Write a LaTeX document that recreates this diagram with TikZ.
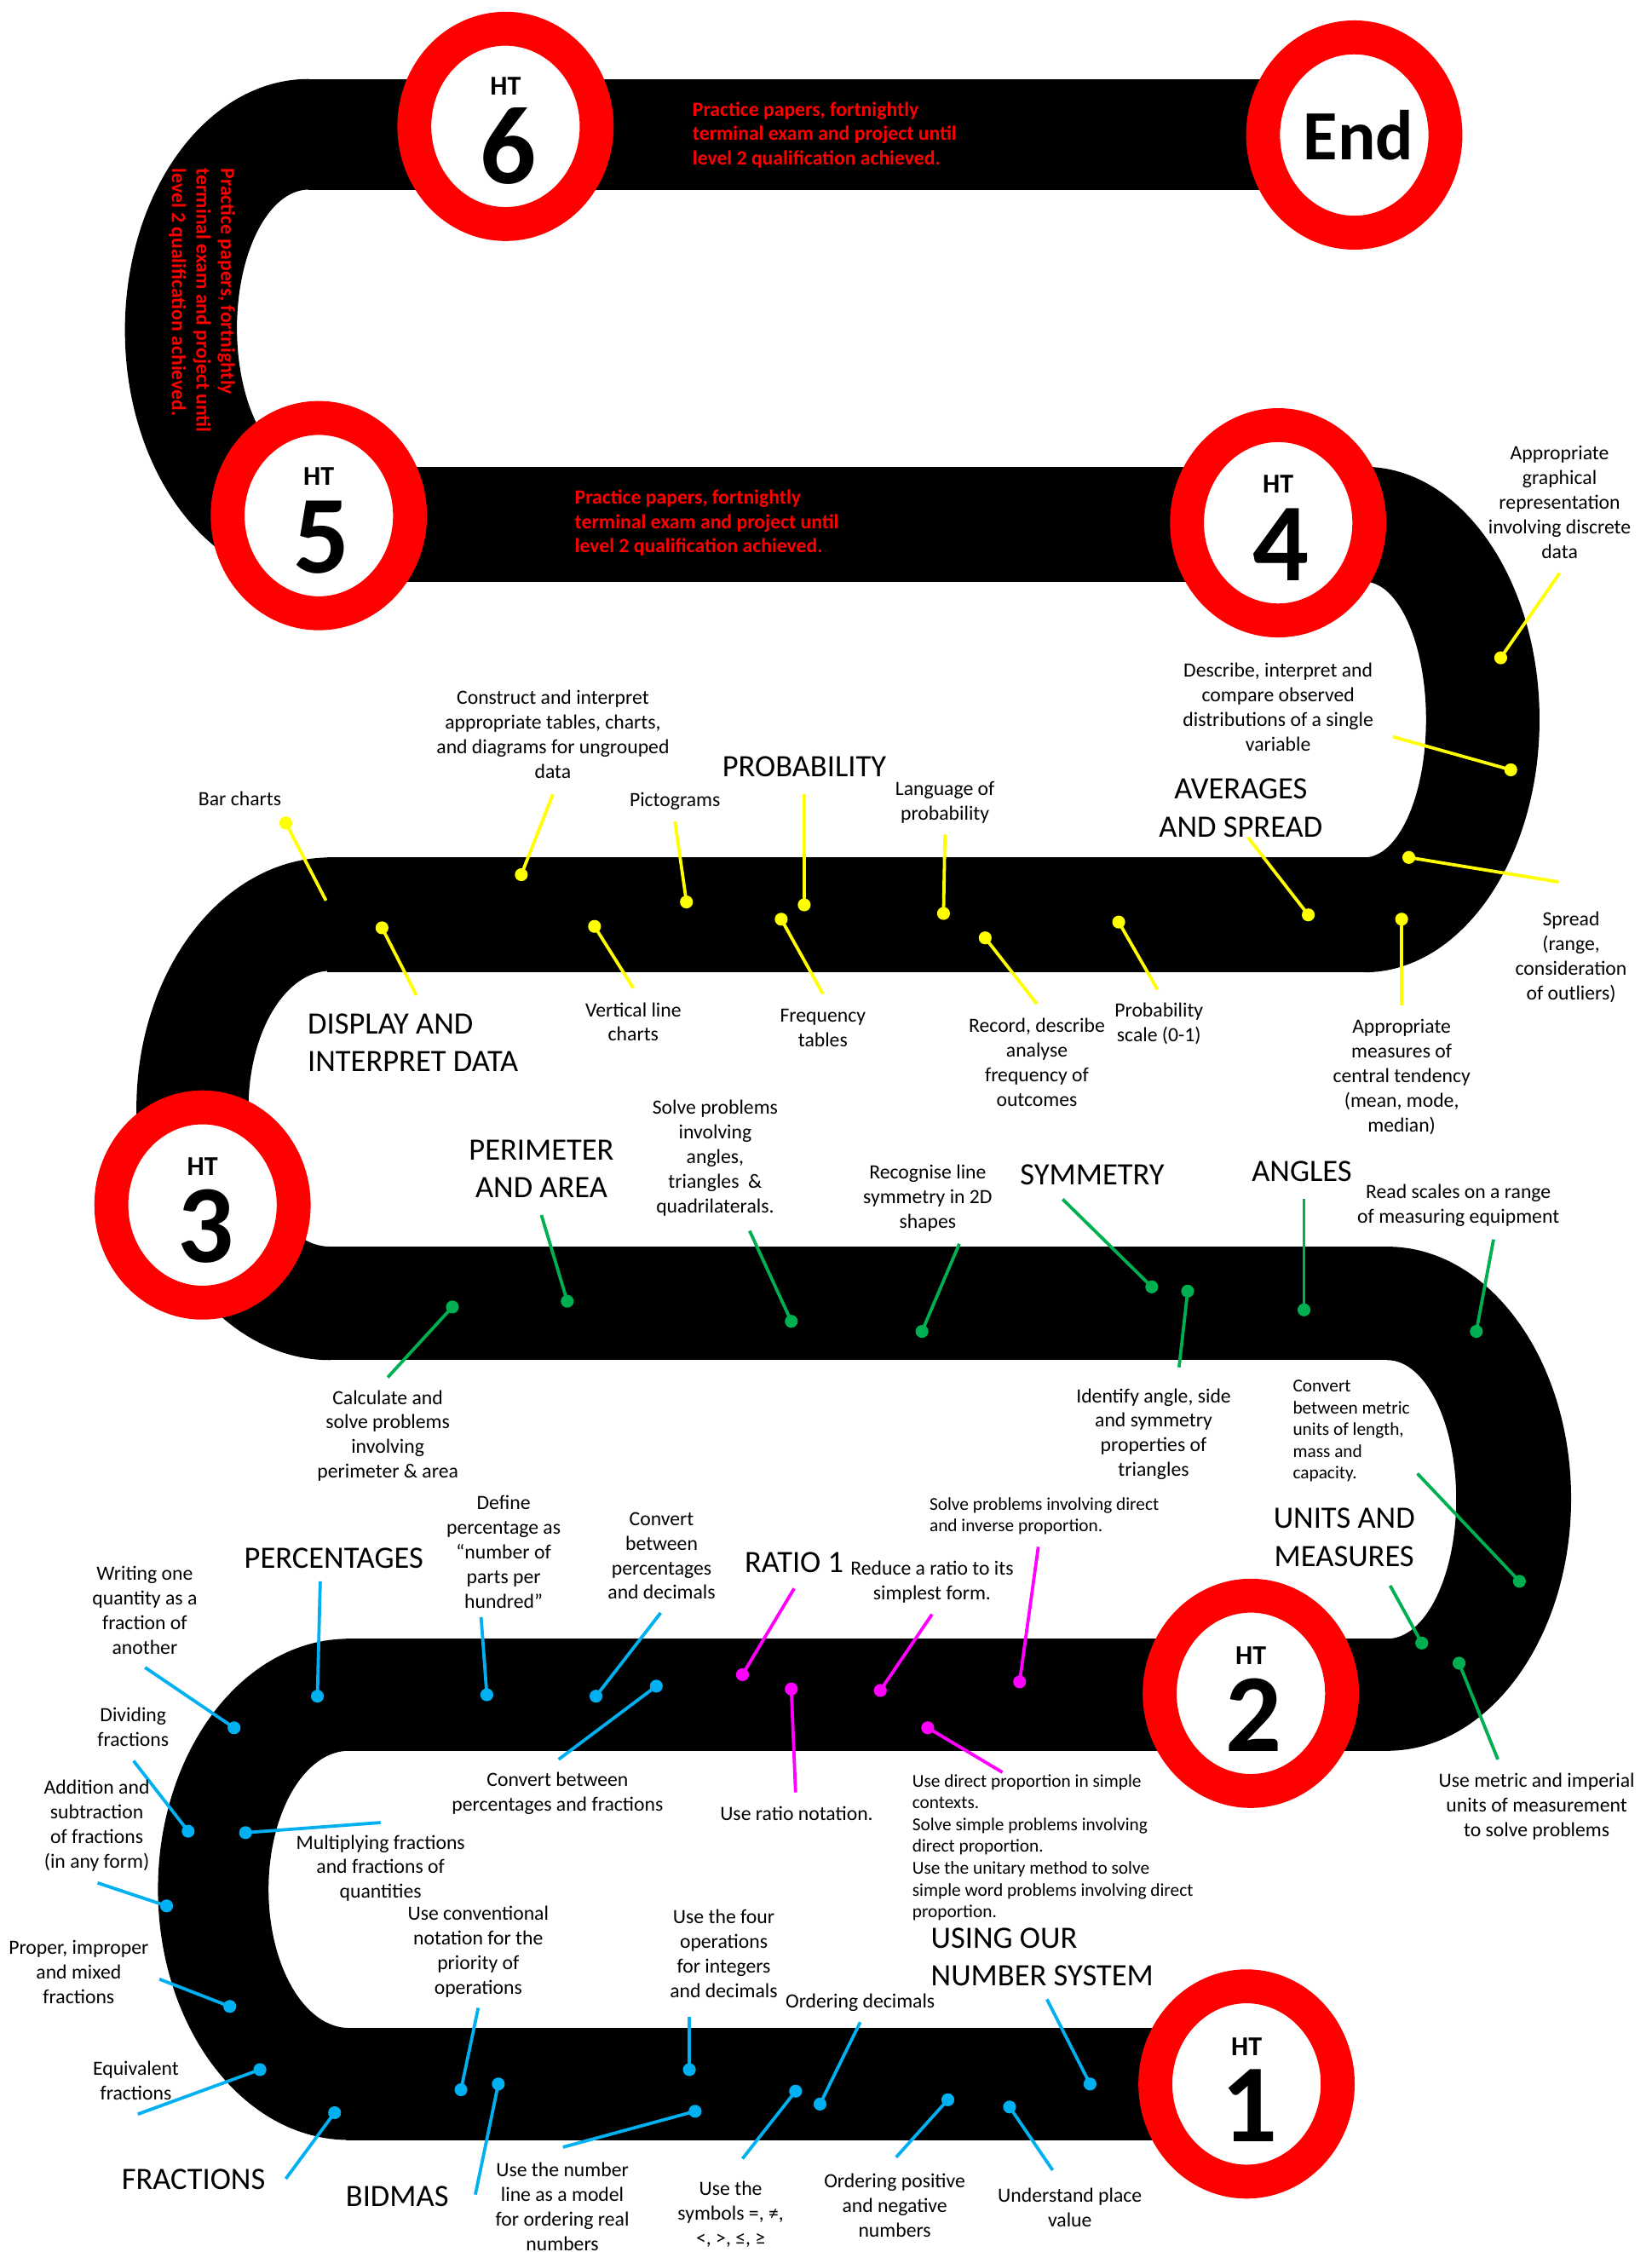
\documentclass[tikz,border=0pt]{standalone}
\usepackage{fontspec}
\setmainfont{Carlito}
\usetikzlibrary{shapes.geometric,calc}
\definecolor{redColor}{HTML}{FF0000}
\definecolor{ylwColor}{HTML}{FFFF00}
\definecolor{grnColor}{HTML}{00B050}
\definecolor{magColor}{HTML}{FF00FF}
\definecolor{bluColor}{HTML}{00B0F0}
\tikzset{
	road/.style={fill=black},
	ring/.style={ellipse, draw=redColor, fill=white, line width=5.9mm,
		minimum width=31.75mm, minimum height=34mm, inner sep=0pt},
	httag/.style={font=\bfseries\fontsize{13.5}{16}\selectfont, inner sep=0pt},
	htnum/.style={font=\bfseries\fontsize{55}{60}\selectfont, inner sep=0pt},
	note/.style={text=redColor, font=\bfseries\fontsize{10}{12.1}\selectfont,
		align=left, inner sep=0pt},
	topic/.style={font=\fontsize{10}{12.2}\selectfont, align=center, inner sep=0pt},
	smalltopic/.style={font=\fontsize{9}{10.8}\selectfont, align=left,
		anchor=west, inner sep=0pt},
	head/.style={font=\fontsize{15.4}{18.8}\selectfont, align=center, inner sep=0pt},
	blob/.style={circle, fill=#1, inner sep=0pt, minimum size=6.4pt},
	spoke/.style={draw=#1, line width=1.6pt}
}
\newcommand{\practice}{Practice papers, fortnightly\\terminal exam and project until\\level 2 qualification achieved.}

\begin{document}
\begin{tikzpicture}[x=0.25mm, y=-0.25mm]
	\path[fill=white] (0,0) rectangle (1150,1568);
	\useasboundingbox (0,0) rectangle (1150,1568);
	
	% the road
	\fill[road] (215,55) rectangle (902,132);
	\fill[road] (213,325) rectangle (952,405);
	\fill[road] (228,597) rectangle (952,677);
	\fill[road] (228,868) rectangle (968,947);
	\fill[road] (241,1141) rectangle (968,1219);
	\fill[road] (241,1412) rectangle (870,1490);
	\fill[road] (215,55) arc[start angle=270, end angle=90, x radius=128, y radius=175]
		-- (215,325) arc[start angle=90, end angle=270, x radius=50, y radius=96.5] -- cycle;
	\fill[road] (950,325) arc[start angle=270, end angle=450, x radius=122, y radius=176]
		-- (950,597) arc[start angle=90, end angle=-90, x radius=43, y radius=96] -- cycle;
	\fill[road] (230,597) arc[start angle=270, end angle=90, x radius=135, y radius=175]
		-- (230,868) arc[start angle=90, end angle=270, x radius=57, y radius=96] -- cycle;
	\fill[road] (966,868) arc[start angle=270, end angle=450, x radius=128, y radius=175.5]
		-- (966,1141) arc[start angle=90, end angle=-90, x radius=48, y radius=97] -- cycle;
	\fill[road] (243,1141) arc[start angle=270, end angle=90, x radius=133, y radius=174.5]
		-- (243,1412) arc[start angle=90, end angle=270, x radius=56, y radius=96.5] -- cycle;
	
	% half terms
	\node[ring] (ht6) at (352,88) {};
	\node[ring] (htend) at (943,94) {};
	\node[ring] (ht5) at (222,359) {};
	\node[ring] (ht4) at (890,364) {};
	\node[ring] (ht3) at (141,839) {};
	\node[ring] (ht2) at (871,1179) {};
	\node[ring] (ht1) at (868,1451) {};
	\node[httag] at ($(ht6)+(0,-28)$) {HT};
	\node[htnum] at ($(ht6)+(2,14)$) {6};
	\node[font=\bfseries\fontsize{35}{40}\selectfont, inner sep=0pt] at ($(htend)+(3,0)$) {End};
	\node[httag] at ($(ht5)+(0,-27)$) {HT};
	\node[htnum] at ($(ht5)+(2,15)$) {5};
	\node[httag] at ($(ht4)+(0,-27)$) {HT};
	\node[htnum] at ($(ht4)+(2,15)$) {4};
	\node[httag] at ($(ht3)+(0,-27)$) {HT};
	\node[htnum] at ($(ht3)+(2,15)$) {3};
	\node[httag] at ($(ht2)+(0,-26)$) {HT};
	\node[htnum] at ($(ht2)+(2,15)$) {2};
	\node[httag] at ($(ht1)+(0,-26)$) {HT};
	\node[htnum] at ($(ht1)+(2,15)$) {1};
	
	\node[note, anchor=west] (n6) at (482,94) {\practice};
	\node[note, anchor=west] (n5) at (400,364) {\practice};
	\node[note, anchor=north west, rotate=-90] (nside) at (164,117) {\practice};
	
	% data (yellow)
	\node[blob=ylwColor] (d-bar) at (199,573) {};      \coordinate (e-bar) at (227,627);
	\node[blob=ylwColor] (d-cons) at (363,609) {};     \coordinate (e-cons) at (385,553);
	\node[blob=ylwColor] (d-pict) at (478,628) {};     \coordinate (e-pict) at (470,572);
	\node[blob=ylwColor] (d-prob) at (560,630) {};     \coordinate (e-prob) at (560,553);
	\node[blob=ylwColor] (d-disp) at (266,646) {};     \coordinate (e-disp) at (290,693);
	\node[blob=ylwColor] (d-vert) at (414,645) {};     \coordinate (e-vert) at (441,688);
	\node[blob=ylwColor] (d-freq) at (544,640) {};     \coordinate (e-freq) at (573,692);
	\node[blob=ylwColor] (d-lang) at (657,636) {};     \coordinate (e-lang) at (658,581);
	\node[blob=ylwColor] (d-rec) at (686,653) {};      \coordinate (e-rec) at (722,699);
	\node[blob=ylwColor] (d-scale) at (779,642) {};    \coordinate (e-scale) at (806,689);
	\node[blob=ylwColor] (d-avg) at (911,637) {};      \coordinate (e-avg) at (869,583);
	\node[blob=ylwColor] (d-meas) at (976,640) {};     \coordinate (e-meas) at (976,700);
	\node[blob=ylwColor] (d-spread) at (981,597) {};   \coordinate (e-spread) at (1085,614);
	\node[blob=ylwColor] (d-descr) at (1052,536) {};   \coordinate (e-descr) at (970,513);
	\node[blob=ylwColor] (d-graph) at (1045,458) {};   \coordinate (e-graph) at (1086,399);
	\foreach \n in {bar,cons,pict,prob,disp,vert,freq,lang,rec,scale,avg,meas,spread,descr,graph}
		\draw[spoke=ylwColor] (d-\n.center) -- (e-\n);
	
	\node[topic] (l-bar) at (167,556) {Bar charts};
	\node[topic] (l-cons) at (385,511.5) {Construct and interpret\\appropriate tables, charts,\\and diagrams for ungrouped\\data};
	\node[topic] (l-pict) at (470,558) {Pictograms};
	\node[head] (l-prob) at (560,534) {PROBABILITY};
	\node[head, align=left, anchor=west] (l-disp) at (214,726) {DISPLAY AND\\INTERPRET DATA};
	\node[topic] (l-vert) at (441,711.5) {Vertical line\\charts};
	\node[topic] (l-freq) at (573,715.5) {Frequency\\tables};
	\node[topic] (l-lang) at (658,558.5) {Language of\\probability};
	\node[topic] (l-rec) at (722,739.5) {Record, describe\\analyse\\frequency of\\outcomes};
	\node[topic] (l-scale) at (807,712.5) {Probability\\scale (0-1)};
	\node[head] (l-avg) at (864,562.7) {AVERAGES\\AND SPREAD};
	\node[topic] (l-meas) at (976,750) {Appropriate\\measures of\\central tendency\\(mean, mode,\\median)};
	\node[topic] (l-spread) at (1094,666.5) {Spread\\(range,\\consideration\\of outliers)};
	\node[topic] (l-descr) at (890,492.5) {Describe, interpret and\\compare observed\\distributions of a single\\variable};
	\node[topic] (l-graph) at (1086,349.7) {Appropriate\\graphical\\representation\\involving discrete\\data};
	
	% shape and measures (green)
	\node[blob=grnColor] (d-per) at (395,906) {};      \coordinate (e-per) at (377,846);
	\node[blob=grnColor] (d-solv) at (551,920) {};     \coordinate (e-solv) at (522,857);
	\node[blob=grnColor] (d-calc) at (315,910) {};     \coordinate (e-calc) at (270,959);
	\node[blob=grnColor] (d-recog) at (642,927) {};    \coordinate (e-recog) at (668,866);
	\node[blob=grnColor] (d-sym) at (802,896) {};      \coordinate (e-sym) at (740,835);
	\node[blob=grnColor] (d-ident) at (827,899) {};    \coordinate (e-ident) at (821,952);
	\node[blob=grnColor] (d-ang) at (908,912) {};      \coordinate (e-ang) at (908,835);
	\node[blob=grnColor] (d-read) at (1028,927) {};    \coordinate (e-read) at (1040,863);
	\node[blob=grnColor] (d-conv) at (1058,1101) {};   \coordinate (e-conv) at (987,1026);
	\node[blob=grnColor] (d-units) at (990,1144) {};   \coordinate (e-units) at (968,1104);
	\node[blob=grnColor] (d-metric) at (1016,1158) {}; \coordinate (e-metric) at (1043,1225);
	\foreach \n in {per,solv,calc,recog,sym,ident,ang,read,conv,units,metric}
		\draw[spoke=grnColor] (d-\n.center) -- (e-\n);
	
	\node[head] (l-per) at (377,813.7) {PERIMETER\\AND AREA};
	\node[topic] (l-solv) at (498,806.3) {Solve problems\\involving\\angles,\\triangles~ \&\\quadrilaterals.};
	\node[topic] (l-calc) at (270,999.7) {Calculate and\\solve problems\\involving\\perimeter \& area};
	\node[topic] (l-recog) at (646,834) {Recognise line\\symmetry in 2D\\shapes};
	\node[head] (l-sym) at (760.6,818) {SYMMETRY};
	\node[topic] (l-ident) at (803.3,998.6) {Identify angle, side\\and symmetry\\properties of\\triangles};
	\node[head] (l-ang) at (906.5,815.6) {ANGLES};
	\node[topic] (l-read) at (1015.5,839.2) {Read scales on a range\\of measuring equipment};
	\node[smalltopic] (l-conv) at (900,996.4) {Convert\\between metric\\units of length,\\mass and\\capacity.};
	\node[head] (l-units) at (936,1070.5) {UNITS AND\\MEASURES};
	\node[topic] (l-metric) at (1070,1257.7) {Use metric and imperial\\units of measurement\\to solve problems};
	
	% ratio (magenta)
	\node[blob=magColor] (d-ratio) at (517,1166) {};   \coordinate (e-ratio) at (553,1106);
	\node[blob=magColor] (d-reduce) at (613,1177) {};  \coordinate (e-reduce) at (649,1124);
	\node[blob=magColor] (d-solvep) at (710,1171) {};  \coordinate (e-solvep) at (723,1077);
	\node[blob=magColor] (d-notn) at (551,1176) {};    \coordinate (e-notn) at (554,1248);
	\node[blob=magColor] (d-direct) at (646,1203) {};  \coordinate (e-direct) at (698,1234);
	\foreach \n in {ratio,reduce,solvep,notn,direct}
		\draw[spoke=magColor] (d-\n.center) -- (e-\n);
	
	\node[head] (l-ratio) at (553,1088) {RATIO 1};
	\node[topic] (l-reduce) at (649,1101.6) {Reduce a ratio to its\\simplest form.};
	\node[smalltopic] (l-solvep) at (647,1055.6) {Solve problems involving direct\\and inverse proportion.};
	\node[topic] (l-notn) at (554.7,1262.6) {Use ratio notation.};
	\node[smalltopic] (l-direct) at (635,1286.3) {Use direct proportion in simple\\contexts.\\Solve simple problems involving\\direct proportion.\\Use the unitary method to solve\\simple word problems involving direct\\proportion.};
	
	% number (blue)
	\node[blob=bluColor] (d-pct) at (221,1181) {};     \coordinate (e-pct) at (223,1101);
	\node[blob=bluColor] (d-defn) at (339,1180) {};    \coordinate (e-defn) at (335,1126);
	\node[blob=bluColor] (d-pdec) at (415,1181) {};    \coordinate (e-pdec) at (460,1123);
	\node[blob=bluColor] (d-pfrac) at (457,1174) {};   \coordinate (e-pfrac) at (389,1225);
	\node[blob=bluColor] (d-wrt) at (163,1203) {};     \coordinate (e-wrt) at (101,1161);
	\node[blob=bluColor] (d-divd) at (131,1275) {};    \coordinate (e-divd) at (93,1226);
	\node[blob=bluColor] (d-mult) at (171,1276) {};    \coordinate (e-mult) at (265,1269);
	\node[blob=bluColor] (d-add) at (116,1327) {};     \coordinate (e-add) at (68,1311);
	\node[blob=bluColor] (d-prop) at (160,1397) {};    \coordinate (e-prop) at (111,1378);
	\node[blob=bluColor] (d-equiv) at (181,1441) {};   \coordinate (e-equiv) at (96,1472);
	\node[blob=bluColor] (d-frac) at (233,1471) {};    \coordinate (e-frac) at (199,1517);
	\node[blob=bluColor] (d-bidm) at (347,1451) {};    \coordinate (e-bidm) at (331,1528);
	\node[blob=bluColor] (d-conven) at (321,1455) {};  \coordinate (e-conven) at (333,1398);
	\node[blob=bluColor] (d-numl) at (484,1470) {};    \coordinate (e-numl) at (392,1495);
	\node[blob=bluColor] (d-four) at (480,1441) {};    \coordinate (e-four) at (480,1404);
	\node[blob=bluColor] (d-symb) at (554,1456) {};    \coordinate (e-symb) at (517,1503);
	\node[blob=bluColor] (d-orddec) at (571,1465) {};  \coordinate (e-orddec) at (599,1408);
	\node[blob=bluColor] (d-ordpos) at (660,1462) {};  \coordinate (e-ordpos) at (624,1502);
	\node[blob=bluColor] (d-place) at (703,1467) {};   \coordinate (e-place) at (733,1511);
	\node[blob=bluColor] (d-using) at (759,1451) {};   \coordinate (e-using) at (729,1392);
	\foreach \n in {pct,defn,pdec,pfrac,wrt,divd,mult,add,prop,equiv,frac,bidm,conven,numl,four,symb,orddec,ordpos,place,using}
		\draw[spoke=bluColor] (d-\n.center) -- (e-\n);
	
	\node[head] (l-pct) at (232.4,1085) {PERCENTAGES};
	\node[topic] (l-defn) at (350.7,1080.5) {Define\\percentage as\\“number of\\parts per\\hundred”};
	\node[topic] (l-pdec) at (460.7,1083.3) {Convert\\between\\percentages\\and decimals};
	\node[topic] (l-pfrac) at (388.2,1248.7) {Convert between\\percentages and fractions};
	\node[topic] (l-wrt) at (100.8,1121) {Writing one\\quantity as a\\fraction of\\another};
	\node[topic] (l-divd) at (92.7,1202.7) {Dividing\\fractions};
	\node[topic] (l-mult) at (265,1300.8) {Multiplying fractions\\and fractions of\\quantities};
	\node[topic] (l-add) at (67.4,1271.3) {Addition and\\subtraction\\of fractions\\(in any form)};
	\node[topic] (l-prop) at (54.8,1373) {Proper, improper\\and mixed\\fractions};
	\node[topic] (l-equiv) at (94.6,1448.9) {Equivalent\\fractions};
	\node[head] (l-frac) at (134.7,1517.6) {FRACTIONS};
	\node[head] (l-bidm) at (276.6,1529) {BIDMAS};
	\node[topic] (l-conven) at (333,1358.8) {Use conventional\\notation for the\\priority of\\operations};
	\node[topic] (l-numl) at (391.6,1536.3) {Use the number\\line as a model\\for ordering real\\numbers};
	\node[topic] (l-four) at (504,1360.4) {Use the four\\operations\\for integers\\and decimals};
	\node[topic] (l-symb) at (508.8,1541.8) {Use the\\symbols =, ≠,\\<, >, ≤, ≥};
	\node[topic] (l-orddec) at (599,1394.5) {Ordering decimals};
	\node[topic] (l-ordpos) at (623,1535.7) {Ordering positive\\and negative\\numbers};
	\node[topic] (l-place) at (745,1537) {Understand place\\value};
	\node[head, align=left, anchor=west] (l-using) at (648,1362.5) {USING OUR\\NUMBER SYSTEM};
\end{tikzpicture}
\end{document}
